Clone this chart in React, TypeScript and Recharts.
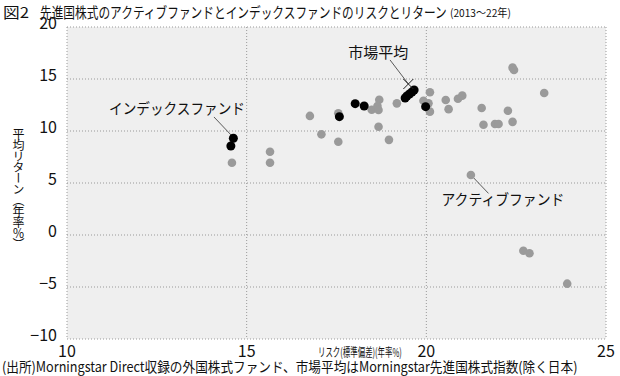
import React, { useLayoutEffect, useRef, useState } from 'react';
import {
  ScatterChart,
  Scatter,
  XAxis,
  YAxis,
  CartesianGrid,
  ReferenceLine,
  ReferenceDot,
} from 'recharts';

// active funds (gray)
const activeRisk = [
  14.59, 15.65, 15.65, 16.76, 17.08, 17.55, 17.55, 18.69, 18.48, 18.64, 18.67, 18.67,
  18.96, 19.18, 19.92, 20.06, 20.1, 20.1, 20.54, 20.62, 20.88, 21.0, 21.54, 21.59,
  21.91, 22.01, 22.27, 22.4, 22.4, 22.44, 23.28, 21.24, 22.7, 22.87, 23.92,
];
const activeReturn = [
  6.95, 8.0, 6.95, 11.45, 9.68, 11.7, 8.97, 13.0, 12.05, 12.4, 12.02, 10.41,
  9.15, 12.66, 12.91, 12.66, 13.72, 11.86, 12.98, 12.1, 13.1, 13.4, 12.21, 10.6,
  10.67, 10.67, 11.95, 10.88, 16.09, 15.87, 13.65, 5.77, -1.51, -1.76, -4.68,
];

// index funds (black)
const indexRisk = [14.63, 14.56, 17.58, 18.02, 18.27, 19.41, 19.46, 19.53, 19.6, 19.66, 19.98];
const indexReturn = [9.3, 8.56, 11.38, 12.63, 12.4, 13.17, 13.37, 13.56, 13.75, 13.94, 12.34];

// market average
const marketRisk = [19.5];
const marketReturn = [14.52];

const xTicks = [10, 15, 20, 25];
const yTicks = [-10, -5, 0, 5, 10, 15, 20];

const zip = (xs: number[], ys: number[]) => xs.map((x, i) => ({ x, y: ys[i] }));
const activeData = zip(activeRisk, activeReturn);
const indexData = zip(indexRisk, indexReturn);
const marketData = zip(marketRisk, marketReturn);

const FONT = '"Noto Sans CJK JP", "Noto Sans", sans-serif';

// text squeezed horizontally to a given width (the original uses a condensed face)
const FitText = ({ x, y, width, fontSize, anchor = 'start', baseline, children }: any) => {
  const ref = useRef<SVGTextElement>(null);
  const [sx, setSx] = useState(1);
  useLayoutEffect(() => {
    if (ref.current) {
      const w = ref.current.getComputedTextLength();
      if (w > 0) setSx(width / w);
    }
  }, [width, children]);
  return (
    <text
      ref={ref}
      transform={`translate(${x} ${y}) scale(${sx} 1)`}
      x={0}
      y={0}
      textAnchor={anchor}
      dominantBaseline={baseline}
      fontSize={fontSize}
      fontFamily={FONT}
      fill="#111"
    >
      {children}
    </text>
  );
};

const dot = (fill: string, r: number) => (p: any) => (
  <circle cx={p.cx} cy={p.cy} r={r} fill={fill} />
);

const cross = (p: any) => {
  const s = 5;
  return (
    <g stroke="#222" strokeWidth={1}>
      <line x1={p.cx - s} y1={p.cy - s} x2={p.cx + s} y2={p.cy + s} />
      <line x1={p.cx - s} y1={p.cy + s} x2={p.cx + s} y2={p.cy - s} />
    </g>
  );
};

const labelShape = (text: string, width: number) => (p: any) => (
  <FitText x={p.cx} y={p.cy + 5} width={width} fontSize={15} anchor="middle">
    {text}
  </FitText>
);

const YTick = (p: any) => {
  const v = p.payload.value;
  const s = v < 0 ? '\u2212' + Math.abs(v) : String(v);
  return (
    <text x={p.x} y={p.y} dy={2} textAnchor="end" fontSize={16} fontFamily={FONT} fill="#111">
      {s}
    </text>
  );
};

const XTick = (p: any) => (
  <text x={p.x} y={p.y} dy={18} textAnchor="middle" fontSize={16} fontFamily={FONT} fill="#111">
    {p.payload.value}
  </text>
);

export default function App() {
  return (
    <div style={{ position: 'fixed', left: 0, top: 0, width: 620, height: 376, background: '#fff', fontFamily: FONT }}>
      <ScatterChart
        width={620}
        height={376}
        margin={{ top: 27, right: 14, bottom: 0, left: 0 }}
      >
        <CartesianGrid
          stroke="#999"
          strokeDasharray="1 2"
          fill="#efefef"
          fillOpacity={1}
        />
        <XAxis
          type="number"
          dataKey="x"
          domain={[10, 25]}
          ticks={xTicks}
          axisLine={false}
          tickLine={false}
          tickSize={0}
          tickMargin={0}
          height={37}
          tick={<XTick />}
          interval={0}
        />
        <YAxis
          type="number"
          dataKey="y"
          domain={[-10, 20]}
          ticks={yTicks}
          axisLine={false}
          tickLine={false}
          tickSize={0}
          tickMargin={10}
          width={67}
          tick={<YTick />}
          interval={0}
        />
        <Scatter data={activeData} shape={dot('#9a9a9a', 4.3)} isAnimationActive={false} />
        <Scatter data={indexData} shape={dot('#000', 4.5)} isAnimationActive={false} />
        <Scatter data={marketData} shape={cross} isAnimationActive={false} />

        <ReferenceLine segment={[{ x: 14.09, y: 11.35 }, { x: 14.62, y: 9.42 }]} stroke="#333" strokeWidth={0.8} />
        <ReferenceLine segment={[{ x: 18.99, y: 16.83 }, { x: 19.5, y: 14.52 }]} stroke="#333" strokeWidth={0.8} />
        <ReferenceLine segment={[{ x: 21.24, y: 5.77 }, { x: 21.73, y: 4.0 }]} stroke="#333" strokeWidth={0.8} />

        <ReferenceDot x={13.06} y={12.12} r={0} shape={labelShape('インデックスファンド', 136)} />
        <ReferenceDot x={18.66} y={17.5} r={0} shape={labelShape('市場平均', 60)} />
        <ReferenceDot x={22.13} y={3.37} r={0} shape={labelShape('アクティブファンド', 123)} />
      </ScatterChart>

      <svg
        width={620}
        height={376}
        style={{ position: 'absolute', left: 0, top: 0, pointerEvents: 'none' }}
      >
        <FitText x={3} y={17.5} width={26} fontSize={15}>図2</FitText>
        <FitText x={40} y={17.5} width={407} fontSize={15}>
          先進国株式のアクティブファンドとインデックスファンドのリスクとリターン
        </FitText>
        <FitText x={450} y={16.5} width={61} fontSize={11}>(2013〜22年)</FitText>
        <FitText x={318} y={357} width={84} fontSize={12}>リスク(標準偏差)(年率%)</FitText>
        <FitText x={2} y={372} width={576} fontSize={14}>
          (出所)Morningstar Direct収録の外国株式ファンド、市場平均はMorningstar先進国株式指数(除く日本)
        </FitText>
      </svg>

      <div
        style={{
          position: 'absolute',
          left: 11,
          top: 128,
          writingMode: 'vertical-rl',
          fontSize: 12,
          lineHeight: '14px',
          letterSpacing: -1,
          color: '#111',
          whiteSpace: 'nowrap',
        }}
      >
        平均リターン（年率％）
      </div>
    </div>
  );
}
